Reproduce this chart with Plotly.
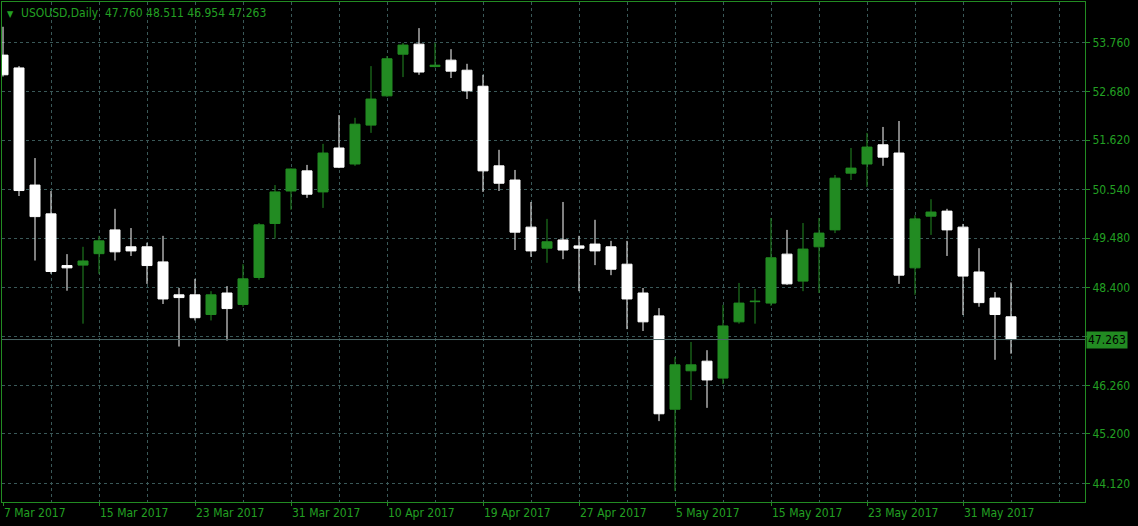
import datetime as dt
import plotly.graph_objects as go

# ---------------- data ----------------
dates = [
    "2017-03-07", "2017-03-08", "2017-03-09", "2017-03-10", "2017-03-13", "2017-03-14",
    "2017-03-15", "2017-03-16", "2017-03-17", "2017-03-20", "2017-03-21", "2017-03-22",
    "2017-03-23", "2017-03-24", "2017-03-27", "2017-03-28", "2017-03-29", "2017-03-30",
    "2017-03-31", "2017-04-03", "2017-04-04", "2017-04-05", "2017-04-06", "2017-04-07",
    "2017-04-10", "2017-04-11", "2017-04-12", "2017-04-13", "2017-04-17", "2017-04-18",
    "2017-04-19", "2017-04-20", "2017-04-21", "2017-04-24", "2017-04-25", "2017-04-26",
    "2017-04-27", "2017-04-28", "2017-05-01", "2017-05-02", "2017-05-03", "2017-05-04",
    "2017-05-05", "2017-05-08", "2017-05-09", "2017-05-10", "2017-05-11", "2017-05-12",
    "2017-05-15", "2017-05-16", "2017-05-17", "2017-05-18", "2017-05-19", "2017-05-22",
    "2017-05-23", "2017-05-24", "2017-05-25", "2017-05-26", "2017-05-29", "2017-05-30",
    "2017-05-31", "2017-06-01", "2017-06-02", "2017-06-05",
]

opens = [
    53.48, 53.20, 50.64, 50.01, 48.88, 48.89, 49.14, 49.66, 49.29, 49.29, 48.96, 48.24,
    48.24, 47.81, 48.28, 48.03, 48.62, 49.80, 50.51, 50.95, 50.49, 51.45, 51.10, 51.95,
    52.59, 53.50, 53.72, 53.23, 53.37, 53.15, 52.80, 51.06, 50.75, 49.72, 49.26, 49.44,
    49.31, 49.35, 49.29, 48.91, 48.28, 47.78, 45.74, 46.58, 46.79, 46.42, 47.65, 48.09,
    48.06, 49.13, 48.54, 49.29, 49.66, 50.90, 51.10, 51.52, 51.34, 48.83, 49.96, 50.07,
    49.72, 48.74, 48.17, 47.760,
]
highs = [
    54.10, 53.24, 51.23, 50.51, 49.13, 49.29, 49.53, 50.12, 49.70, 49.38, 49.53, 48.39,
    48.59, 48.32, 48.43, 48.91, 49.81, 50.64, 51.00, 51.08, 51.54, 52.17, 52.11, 53.24,
    53.46, 53.745, 54.07, 53.745, 53.61, 53.29, 53.05, 51.41, 50.97, 50.27, 49.90, 50.27,
    49.53, 49.88, 49.42, 49.42, 48.39, 47.95, 46.88, 47.21, 47.03, 48.02, 48.50, 48.37,
    49.92, 49.66, 49.81, 49.92, 50.86, 51.45, 51.78, 51.91, 52.04, 49.98, 50.33, 50.12,
    49.79, 49.26, 48.30, 48.511,
]
lows = [
    53.01, 50.40, 48.99, 48.70, 48.33, 47.61, 48.70, 48.99, 49.09, 48.48, 48.04, 47.11,
    47.68, 47.68, 47.24, 47.98, 48.57, 49.47, 50.10, 50.36, 50.14, 51.01, 51.06, 51.78,
    52.57, 53.00, 53.05, 53.21, 52.98, 52.52, 50.49, 50.51, 49.22, 49.07, 48.94, 49.02,
    48.32, 48.89, 48.67, 47.49, 47.45, 45.48, 43.95, 45.94, 45.77, 46.29, 47.61, 47.61,
    48.00, 48.46, 48.32, 48.28, 49.59, 50.75, 50.60, 51.06, 48.48, 48.24, 49.55, 49.09,
    47.80, 47.98, 46.82, 46.954,
]
closes = [
    53.05, 50.52, 49.95, 48.75, 48.83, 48.98, 49.42, 49.18, 49.20, 48.88, 48.15, 48.18,
    47.74, 48.24, 47.94, 48.59, 49.77, 50.49, 50.99, 50.44, 51.34, 51.03, 51.97, 52.52,
    53.40, 53.70, 53.11, 53.26, 53.13, 52.70, 50.95, 50.68, 49.61, 49.20, 49.40, 49.22,
    49.26, 49.20, 48.80, 48.15, 47.65, 45.64, 46.71, 46.71, 46.38, 47.56, 48.06, 48.10,
    49.05, 48.48, 49.24, 49.59, 50.79, 51.01, 51.47, 51.25, 48.67, 49.90, 50.05, 49.66,
    48.65, 48.07, 47.81, 47.263,
]

price_ticks = [44.12, 45.20, 46.26, 47.33, 48.40, 49.48, 50.54, 51.62, 52.68, 53.76]
hidden_tick = 47.33          # covered by the current price label
symbol = "USOUSD,Daily"
last_price = closes[-1]

# ---------------- styling ----------------
GREEN = "#228b22"
TEXT_GREEN = "#23a023"
GRID = "#3a5858"
FONT = "DejaVu Sans Condensed, DejaVu Sans, sans-serif"

idx = list(range(len(dates)))
label_every = 6
grid_every = 3

date_labels = [dt.datetime.strptime(d, "%Y-%m-%d") for d in dates]
tickvals_x = idx[::label_every]
ticktext_x = [f"{d.day} {d.strftime('%b %Y')}" for d in date_labels[::label_every]]

fig = go.Figure()
fig.add_trace(go.Candlestick(
    x=idx, open=opens, high=highs, low=lows, close=closes,
    increasing=dict(line=dict(color=GREEN, width=1), fillcolor=GREEN),
    decreasing=dict(line=dict(color="#ffffff", width=1), fillcolor="#ffffff"),
    whiskerwidth=0,
    hoverinfo="skip",
))

fig.add_hline(y=last_price, line=dict(color="#4d6868", width=1))

fig.update_xaxes(
    type="linear",
    range=[-0.0625, 67.625],
    rangeslider=dict(visible=False),
    tickmode="array", tickvals=tickvals_x, ticktext=ticktext_x,
    ticklabelposition="outside right",
    ticks="outside", ticklen=3, tickcolor=GREEN,
    tickfont=dict(family=FONT, size=12, color=TEXT_GREEN),
    showgrid=True, gridcolor=GRID, griddash="3px,3px", gridwidth=1,
    minor=dict(tickmode="linear", tick0=0, dtick=grid_every, showgrid=True,
               gridcolor=GRID, griddash="3px,3px", ticks=""),
    showline=True, linecolor=GREEN, linewidth=1, mirror=True,
    zeroline=False, fixedrange=True,
)
fig.update_yaxes(
    side="right",
    range=[43.712, 54.641],
    tickmode="array", tickvals=price_ticks,
    ticktext=["" if v == hidden_tick else f"{v:.3f}" for v in price_ticks],
    ticks="outside", ticklen=4, tickcolor=GREEN,
    tickfont=dict(family=FONT, size=12, color=TEXT_GREEN),
    showgrid=True, gridcolor=GRID, griddash="3px,3px", gridwidth=1,
    showline=True, linecolor=GREEN, linewidth=1, mirror=True,
    zeroline=False, fixedrange=True,
)

# current price label
fig.add_annotation(
    xref="paper", yref="y", x=1, y=last_price, xanchor="left", yanchor="middle",
    xshift=1, text=f"{last_price:.3f}", showarrow=False,
    font=dict(family=FONT, size=12, color="#000000"),
    bgcolor=GREEN, borderpad=1,
)

# header
fig.add_annotation(
    xref="paper", yref="paper", x=0, y=1, xanchor="left", yanchor="top",
    xshift=3, yshift=-5, text="\u25BC", showarrow=False,
    font=dict(family=FONT, size=9, color=TEXT_GREEN),
)
header = (f"{symbol}\u00a0\u00a0{opens[-1]:.3f}\u00a0{highs[-1]:.3f}"
          f"\u00a0{lows[-1]:.3f}\u00a0{closes[-1]:.3f}")
fig.add_annotation(
    xref="paper", yref="paper", x=0, y=1, xanchor="left", yanchor="top",
    xshift=17, yshift=-2, text=header, showarrow=False,
    font=dict(family=FONT, size=12, color=TEXT_GREEN),
)

fig.update_layout(
    width=1138, height=526,
    margin=dict(l=2, r=53, t=2, b=24),
    paper_bgcolor="#000000", plot_bgcolor="#000000",
    showlegend=False, boxgap=0.375, boxgroupgap=0,
    hovermode=False,
)

fig.write_html("out.html", config={"displayModeBar": False},
               post_script="document.body.style.margin='0';document.body.style.overflow='hidden';")
